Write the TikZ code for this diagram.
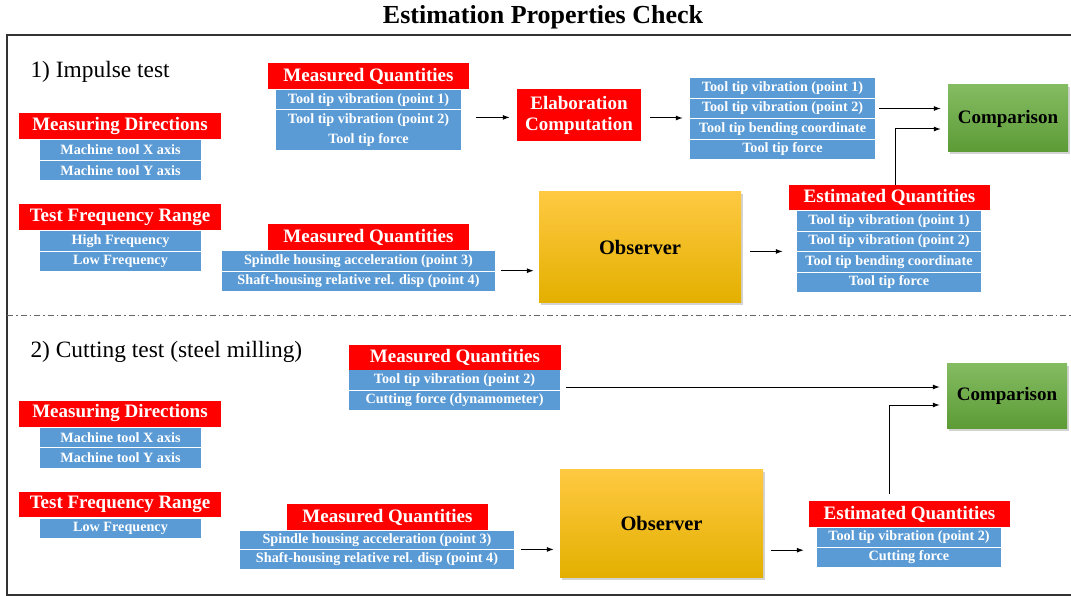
\documentclass[tikz,border=0pt]{standalone}
\usepackage{fontspec}
\setmainfont{Liberation Serif}
\usepackage{tikz}
\usetikzlibrary{positioning,arrows.meta,shadows,calc}
\usepackage{xcolor}
\definecolor{hdrred}{HTML}{FF0000}
\definecolor{itemblue}{HTML}{5B9BD5}
\definecolor{cmptop}{HTML}{84BC62}
\definecolor{cmpbot}{HTML}{5C9B36}
\definecolor{obstop}{HTML}{FFC942}
\definecolor{obsmid}{HTML}{FFC000}
\definecolor{obsbot}{HTML}{E3B000}

\begin{document}
\begin{tikzpicture}[x=1pt,y=-1pt,
  hdr/.style={fill=hdrred,text=white,inner sep=0pt,minimum height=26pt,font=\bfseries\fontsize{19}{21}\selectfont},
  item/.style={fill=itemblue,text=white,inner sep=0pt,minimum height=19.5pt,font=\bfseries\fontsize{14.2}{16}\selectfont},
  cmpbox/.style={top color=cmptop,bottom color=cmpbot,inner sep=0pt,minimum width=120pt,font=\bfseries\fontsize{19}{21}\selectfont,
    drop shadow={shadow xshift=2pt,shadow yshift=-2.5pt,opacity=.35}},
  obsbox/.style={top color=obstop,middle color=obsmid,bottom color=obsbot,inner sep=0pt,font=\bfseries\fontsize{20.5}{23}\selectfont,
    drop shadow={shadow xshift=2pt,shadow yshift=-2.5pt,opacity=.35}},
  tname/.style={anchor=west,font=\fontsize{23.4}{26}\selectfont},
  arr/.style={-{Latex[length=7pt,width=5pt]},line width=1pt}]
  \useasboundingbox (0,0) rectangle (1071,596);
  \node[font=\bfseries\fontsize{26}{30}\selectfont] (title) at (543,17) {Estimation Properties Check};
  \draw[line width=1.3pt,black!80] (1071,35) -- (7,35) -- (7,595) -- (1071,595);

  % 1) impulse test
  \node[tname] (imp) at (27,72) {1) Impulse test};
  \node[hdr,minimum width=202pt] (mdA) at (120,126) {Measuring Directions};
  \foreach \t [count=\k] in {Machine tool X axis,Machine tool Y axis}
    \node[item,minimum width=161pt] (mdA\k) at (120.5,{129.5+20.5*\k}) {\t};
  \node[hdr,minimum width=202pt] (tfA) at (120,217) {Test Frequency Range};
  \foreach \t [count=\k] in {High Frequency,Low Frequency}
    \node[item,minimum width=161pt] (tfA\k) at (120.5,{220.5+20.5*\k}) {\t};
  \node[hdr,minimum width=201pt] (mqA) at (368.5,76) {Measured Quantities};
  \foreach \t [count=\k] in {Tool tip vibration (point 1),Tool tip vibration (point 2),Tool tip force}
    \node[item,minimum width=185pt] (mqA\k) at (368.5,{79.5+20.2*\k}) {\t};
  \node[hdr,minimum width=124pt,minimum height=52pt,align=center] (elab) at (579,115) {Elaboration\\Computation};
  \foreach \t [count=\k] in {Tool tip vibration (point 1),Tool tip vibration (point 2),Tool tip bending coordinate,Tool tip force}
    \node[item,minimum width=185pt] (eoA\k) at (782.5,{67.5+20.5*\k}) {\t};
  \node[cmpbox,minimum height=67pt] (cmpA) at (1008,118.5) {Comparison};
  \node[hdr,minimum width=201pt] (mqB) at (368.5,237) {Measured Quantities};
  \foreach \t [count=\k] in {Spindle housing acceleration (point 3),Shaft-housing relative rel. disp (point 4)}
    \node[item,minimum width=273pt,minimum height=19pt] (mqB\k) at (358.5,{240.5+20.5*\k}) {\t};
  \node[obsbox,minimum width=202pt,minimum height=110pt] (obsA) at (640,247) {Observer};
  \node[hdr,minimum width=201pt,minimum height=25pt] (eqA) at (889.5,197.5) {Estimated Quantities};
  \foreach \t [count=\k] in {Tool tip vibration (point 1),Tool tip vibration (point 2),Tool tip bending coordinate,Tool tip force}
    \node[item,minimum width=184pt] (eqA\k) at (889,{200.5+20.5*\k}) {\t};

  \draw[arr] ($(mqA2.east)+(15,-2.5)$) -- ($(mqA2.east -| elab.west)+(-7,-2.5)$);
  \draw[arr] ($(elab.east)+(9,3)$) -- ($(elab.east -| eoA1.west)+(-7,3)$);
  \draw[arr] ($(eoA2.east)+(4,0)$) -- ($(eoA2.east -| cmpA.west)+(-7,0)$);
  \draw[arr] ($(eqA.north)+(5.5,0)$) |- ($(cmpA.west)+(-7,10.5)$);
  \draw[arr] ($(mqB1.south east)+(6,0)$) -- ($(mqB1.south east -| obsA.west)+(-5,0)$);
  \draw[arr] ($(eqA2.south west -| obsA.east)+(9,0)$) -- ($(eqA2.south west)+(-14,0)$);

  \draw[black!60,line width=1pt,dash pattern=on 6pt off 3pt on 1.5pt off 3pt] (7,315) -- (1071,315);

  % 2) cutting test
  \node[tname] (cut) at (27,352) {2) Cutting test (steel milling)};
  \node[hdr,minimum width=212pt,minimum height=25pt] (mqC) at (455,357) {Measured Quantities};
  \foreach \t [count=\k] in {Tool tip vibration (point 2),Cutting force (dynamometer)}
    \node[item,minimum width=211pt] (mqC\k) at (454.5,{359.5+20.5*\k}) {\t};
  \node[cmpbox,minimum height=65pt] (cmpB) at (1007,395.5) {Comparison};
  \node[hdr,minimum width=202pt] (mdB) at (120,413.5) {Measuring Directions};
  \foreach \t [count=\k] in {Machine tool X axis,Machine tool Y axis}
    \node[item,minimum width=161pt] (mdB\k) at (120.5,{417+20.5*\k}) {\t};
  \node[hdr,minimum width=202pt,minimum height=25pt] (tfB) at (120,504.5) {Test Frequency Range};
  \node[item,minimum width=161pt] (tfB1) at (120.5,528.5) {Low Frequency};
  \node[hdr,minimum width=201pt] (mqD) at (387.5,517) {Measured Quantities};
  \foreach \t [count=\k] in {Spindle housing acceleration (point 3),Shaft-housing relative rel. disp (point 4)}
    \node[item,minimum width=274pt,minimum height=18.5pt] (mqD\k) at (377,{520.5+19.5*\k}) {\t};
  \node[obsbox,minimum width=203pt,minimum height=108pt] (obsB) at (661.5,523) {Observer};
  \node[hdr,minimum width=201pt] (eqB) at (909.5,514) {Estimated Quantities};
  \foreach \t [count=\k] in {Tool tip vibration (point 2),Cutting force}
    \node[item,minimum width=184pt,minimum height=19pt] (eqB\k) at (909,{517+20*\k}) {\t};

  \draw[arr] ($(mqC1.east)+(6,7)$) -- ($(mqC1.east -| cmpB.west)+(-7,7)$);
  \draw[arr] ($(eqB.north)+(-20.5,-7)$) |- ($(cmpB.west)+(-7,9.5)$);
  \draw[arr] ($(mqD1.south east)+(7,0)$) -- ($(mqD1.south east -| obsB.west)+(-6,0)$);
  \draw[arr] ($(eqB1.south west -| obsB.east)+(8,3.5)$) -- ($(eqB1.south west)+(-13,3.5)$);
\end{tikzpicture}
\end{document}
